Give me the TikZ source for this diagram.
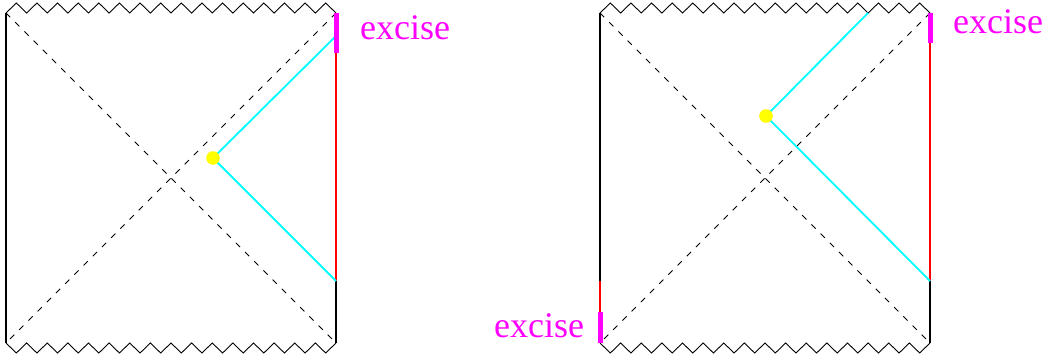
\documentclass[tikz,border=0pt]{standalone}
\usepackage{fontspec}
\setmainfont{Liberation Serif}
\definecolor{mag}{RGB}{255,0,255}
\definecolor{cya}{RGB}{0,255,255}
\definecolor{yel}{RGB}{255,255,0}
\definecolor{rd}{RGB}{255,0,0}
\newcommand\zigline[3]{% left x, corner y, relative peak offset
  \draw[sing] (#1,#2) \foreach \i in {1,...,16} { -- ++(10.3125,#3) -- ++(10.3125,-#3) };}
\begin{document}
\begin{tikzpicture}[x=1pt,y=-1pt,
  edge/.style={line width=2pt,black},
  redseg/.style={line width=2pt,rd},
  cyanseg/.style={line width=1.8pt,cya},
  excisebar/.style={line width=5pt,mag},
  horizon/.style={dash pattern=on 6pt off 7pt,line width=0.8pt},
  sing/.style={line width=0.9pt,line join=miter},
  lbl/.style={mag,font=\fontsize{36}{40}\selectfont,inner sep=0pt}]
\useasboundingbox (0,0) rectangle (1050,356);
% ---------- left diagram ----------
\coordinate (LTL) at (6,13);   \coordinate (LTR) at (336,13);
\coordinate (LBL) at (6,343);  \coordinate (LBR) at (336,343);
\coordinate (LE1) at (336,53); \coordinate (LE2) at (336,281);
\coordinate (LC1) at (336,36); \coordinate (LP) at (213,158);
\zigline{6}{13}{-10}
\zigline{6}{343}{10}
\draw[horizon] (LTL) -- (LBR);
\draw[horizon] (LTR) -- (LBL);
\draw[edge] (LTL) -- (LBL);
\draw[edge] (LE2) -- (LBR);
\draw[redseg] (LE1) -- (LE2);
\draw[cyanseg] (LC1) -- (LP) -- (LE2);
\draw[excisebar] (LTR) -- (LE1);
\fill[yel] (LP) circle (6.8);
\node[lbl,anchor=base west] (lx1) at (360,39) {excise};
% ---------- right diagram ----------
\coordinate (RTL) at (600,13);   \coordinate (RTR) at (930,13);
\coordinate (RBL) at (600,343);  \coordinate (RBR) at (930,343);
\coordinate (RE1) at (930,43);   \coordinate (RE2) at (930,281);
\coordinate (RL1) at (600,281);  \coordinate (RL2) at (600,312);
\coordinate (RC1) at (868,13);   \coordinate (RP) at (766,116);
\zigline{600}{13}{-10}
\zigline{600}{343}{10}
\draw[horizon] (RTL) -- (RBR);
\draw[horizon] (RTR) -- (RBL);
\draw[edge] (RTL) -- (RL1);
\draw[redseg] (RL1) -- (RL2);
\draw[excisebar] (RL2) -- (RBL);
\draw[edge] (RE2) -- (RBR);
\draw[redseg] (RE1) -- (RE2);
\draw[excisebar] (RTR) -- (RE1);
\draw[cyanseg] (RC1) -- (RP) -- (RE2);
\fill[yel] (RP) circle (6.8);
\node[lbl,anchor=base west] (rx1) at (953,33) {excise};
\node[lbl,anchor=base west] (rx2) at (494,337) {excise};
\end{tikzpicture}
\end{document}
